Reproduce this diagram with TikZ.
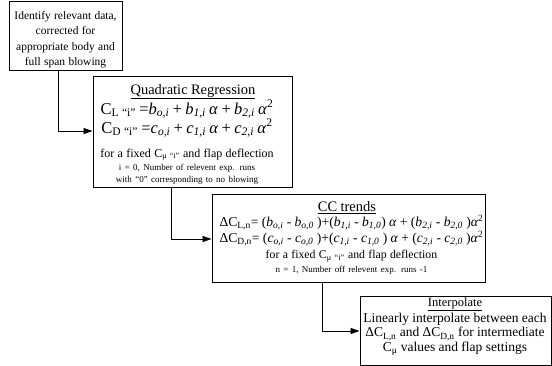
\documentclass[tikz,border=0pt]{standalone}
\usepackage{fontspec}
\setmainfont{Liberation Serif}
\usetikzlibrary{arrows.meta}
\setlength\parindent{0pt}
\setlength\parskip{0pt}
\setlength\lineskiplimit{-100pt}
\newcommand\sbx[1]{\textsubscript{#1}}
\newcommand\iv[2]{\textit{#1}\textsubscript{\textit{#2}}}
\newcommand\al{\textit{α}}
\newcommand\sq{\textsuperscript{2}}
\newcommand\fs[2]{\fontsize{#1}{#2}\selectfont}
\tikzset{
  box/.style={draw=black, line width=1pt, inner sep=0pt},
  txt/.style={inner sep=0pt, align=center},
  conn/.style={line width=0.9pt, -{Triangle[length=9pt,width=6pt]}},
}
\begin{document}
\begin{tikzpicture}[x=1pt,y=-1pt]
\useasboundingbox (0,0) rectangle (552,366);
% boxes
\node[box, minimum width=113pt, minimum height=69pt] (b1) at (65.5,36.5) {};
\node[box, minimum width=199pt, minimum height=111pt] (b2) at (192.5,132.5) {};
\node[box, minimum width=273pt, minimum height=88pt] (b3) at (348.5,239) {};
\node[box, minimum width=191pt, minimum height=68pt] (b4) at (455.5,331) {};
% texts
\node[txt, text width=113pt] (t1) at (65.5,39.6)
  {\fs{11.5}{15.5}Identify relevant data,\\ corrected for\\ appropriate body and\\ full span blowing\par};
\node[txt, text width=200pt] (t2) at (187,134)
  {\fs{14.5}{0}\hspace*{12pt}\underline{Quadratic Regression}\par
   \fs{16.5}{18}C\sbx{L “i”} =\iv{b}{o,i} + \iv{b}{1,i} \al{} + \iv{b}{2,i} \al\sq\par
   \fs{16.5}{19}C\sbx{D “i”} =\iv{c}{o,i} + \iv{c}{1,i} \al{} + \iv{c}{2,i} \al\sq\par
   \fs{12}{24}for a fixed C\sbx{μ “i”} and flap deflection\par
   \fs{9}{13}i = 0, Number of relevent exp. runs\par
   \fs{9}{12}with “0” corresponding to no blowing\par};
\node[txt, text width=280pt] (t3) at (351.5,238)
  {\fs{14.5}{0}\hspace*{-9pt}\underline{CC trends}\par
   \fs{13.6}{15}ΔC\sbx{L,n}= (\iv{b}{o,i} - \iv{b}{o,0} )+(\iv{b}{1,i} - \iv{b}{1,0}) \al{} + (\iv{b}{2,i} - \iv{b}{2,0} )\al\sq\par
   \fs{13.6}{15}ΔC\sbx{D,n}= (\iv{c}{o,i} - \iv{c}{o,0} )+(\iv{c}{1,i} - \iv{c}{1,0} ) \al{} + (\iv{c}{2,i} - \iv{c}{2,0} )\al\sq\par
   \fs{11.8}{16}for a fixed C\sbx{μ “i”} and flap deflection\par
   \fs{9}{14}n = 1, Number off relevent exp. runs -1\par};
\node[txt, text width=195pt] (t4) at (455,326.7)
  {\fs{12.5}{0}\underline{Interpolate}\par
   \fs{13.5}{16}Linearly interpolate between each\par
   \fs{13.5}{14.5}ΔC\sbx{L,n} and ΔC\sbx{D,n} for intermediate\\
   C\sbx{μ} values and flap settings\par};
% connectors
\coordinate (k1) at (58,131);
\coordinate (k2) at (171,239);
\coordinate (k3) at (322,331);
\draw[conn] (b1.south -| k1) -- (k1) -- (k1 -| b2.west);
\draw[conn] (b2.south -| k2) -- (k2) -- (k2 -| b3.west);
\draw[conn] (b3.south -| k3) -- (k3) -- (k3 -| b4.west);
\end{tikzpicture}
\end{document}
